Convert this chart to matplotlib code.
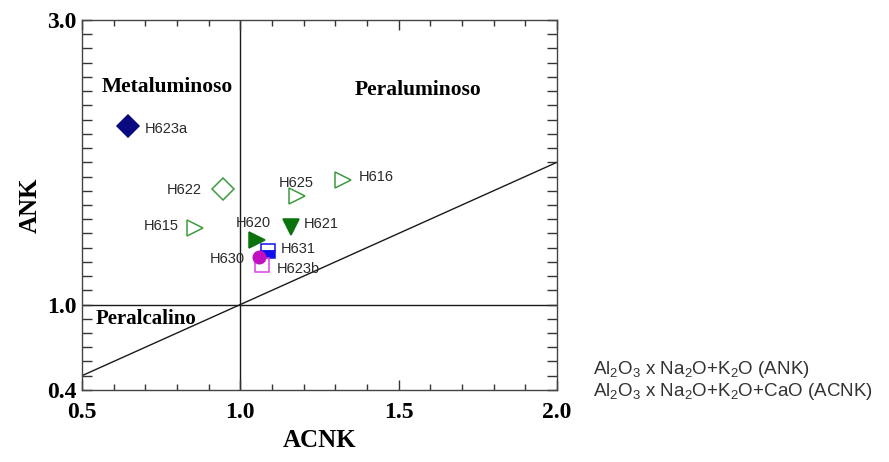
import matplotlib
matplotlib.use('Agg')
import matplotlib.pyplot as plt
from matplotlib.ticker import MultipleLocator, FixedLocator

# sample values (ACNK vs ANK)
samples = ['H623a', 'H622', 'H615', 'H625', 'H616', 'H621', 'H620', 'H631', 'H623b', 'H630']
acnk = [0.645, 0.945, 0.857, 1.178, 1.325, 1.160, 1.053, 1.087, 1.070, 1.059]
ank = [2.256, 1.814, 1.540, 1.760, 1.877, 1.545, 1.456, 1.379, 1.280, 1.337]

x_ticks = [0.5, 1.0, 1.5, 2.0]
y_ticks = [0.4, 1.0, 3.0]

# marker style per sample: marker, edge colour, face colour, size, fillstyle
green_open = '#3f9a3f'
green_fill = '#0c720c'
styles = {
    'H623a': ('D', '#0a0a80', '#0a0a80', 11, 'full'),
    'H622': ('D', green_open, 'none', 11, 'full'),
    'H615': ('>', green_open, 'none', 11, 'full'),
    'H625': ('>', green_open, 'none', 11, 'full'),
    'H616': ('>', green_open, 'none', 11, 'full'),
    'H621': ('v', green_fill, green_fill, 11, 'full'),
    'H620': ('>', green_fill, green_fill, 11, 'full'),
    'H631': ('s', '#1010ee', '#1010ee', 10, 'bottom'),
    'H623b': ('s', '#e040e0', 'none', 10, 'full'),
    'H630': ('o', '#c010c0', '#c010c0', 9, 'full'),
}
# label offsets in points (dx, dy) and horizontal alignment
label_pos = {
    'H623a': (12, -2, 'left'),
    'H622': (-15, -1, 'right'),
    'H615': (-12, 1, 'right'),
    'H625': (-13, 10, 'left'),
    'H616': (11, 2, 'left'),
    'H621': (9, 2, 'left'),
    'H620': (-15, 12, 'left'),
    'H631': (9, 1, 'left'),
    'H623b': (10, -3, 'left'),
    'H630': (-10, -2, 'right'),
}

serif = 'Liberation Serif'
sans = 'Liberation Sans'
plt.rcParams['mathtext.default'] = 'regular'

fig = plt.figure(figsize=(8.89, 4.62), dpi=100)
ax = fig.add_axes([0.0922, 0.156, 0.5343, 0.8007])

line_col = '#1a1a1a'
ax.axvline(1.0, color=line_col, lw=1.0, zorder=1)
ax.axhline(1.0, color=line_col, lw=1.0, zorder=1)
ax.plot([0.5, 2.0], [0.5, 2.0], color=line_col, lw=1.0, zorder=1)

for name, x, y in zip(samples, acnk, ank):
    m, ec, fc, ms, fs = styles[name]
    ax.plot(x, y, marker=m, markersize=ms, markeredgecolor=ec,
            markerfacecolor=fc, fillstyle=fs, markerfacecoloralt='none',
            markeredgewidth=1.1, linestyle='none', zorder=3)
    dx, dy, ha = label_pos[name]
    ax.annotate(name, (x, y), xytext=(dx, dy), textcoords='offset points',
                ha=ha, va='center', fontsize=10.5, family=sans, color='#2a2a2a')

# field names
ax.text(0.768, 2.53, 'Metaluminoso', family=serif, fontweight='bold', fontsize=15.5,
        ha='center', va='center')
ax.text(1.562, 2.51, 'Peraluminoso', family=serif, fontweight='bold', fontsize=15.5,
        ha='center', va='center')
ax.text(0.702, 0.9, 'Peralcalino', family=serif, fontweight='bold', fontsize=15,
        ha='center', va='center')

ax.set_xlim(0.5, 2.0)
ax.set_ylim(0.4, 3.0)
ax.xaxis.set_major_locator(FixedLocator(x_ticks))
ax.xaxis.set_minor_locator(MultipleLocator(0.1))
ax.yaxis.set_major_locator(FixedLocator(y_ticks))
ax.yaxis.set_minor_locator(MultipleLocator(0.1))
ax.tick_params(which='both', direction='in', top=True, right=True, color='#333333')
ax.tick_params(axis='x', which='major', length=7, width=1, pad=9)
ax.tick_params(axis='x', which='minor', length=4, width=1)
ax.tick_params(axis='y', which='major', length=7, width=1, pad=4)
ax.tick_params(axis='y', which='minor', length=7, width=1)
ax.set_xticklabels([f'{v:.1f}' for v in x_ticks])
ax.set_yticklabels([f'{v:.1f}' for v in y_ticks])
for lab in ax.get_xticklabels() + ax.get_yticklabels():
    lab.set_family(serif)
    lab.set_fontweight('bold')
    lab.set_fontsize(17)
for sp in ax.spines.values():
    sp.set_color('#444444')
    sp.set_linewidth(1.0)

ax.set_xlabel('ACNK', family=serif, fontweight='bold', fontsize=18, labelpad=4)
ax.set_ylabel('ANK', family=serif, fontweight='bold', fontsize=18, labelpad=4)

# axis definitions
fig.text(0.667, 1 - 370 / 462, 'Al$_2$O$_3$ x Na$_2$O+K$_2$O (ANK)', family=sans,
         fontsize=13.5, color='#333333', va='center', ha='left')
fig.text(0.667, 1 - 392 / 462, 'Al$_2$O$_3$ x Na$_2$O+K$_2$O+CaO (ACNK)', family=sans,
         fontsize=13.5, color='#333333', va='center', ha='left')

fig.savefig('out.png', dpi=100)
